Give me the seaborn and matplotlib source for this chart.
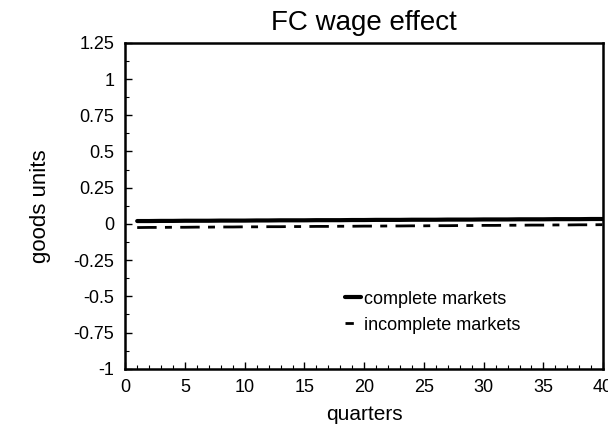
import pandas as pd
import matplotlib.pyplot as plt
import seaborn as sns
from matplotlib.ticker import MultipleLocator

# данные
quarters = list(range(1, 41))
complete = [0.020, 0.020, 0.021, 0.021, 0.022, 0.022, 0.022, 0.023, 0.023, 0.023,
            0.024, 0.024, 0.025, 0.025, 0.025, 0.026, 0.026, 0.026, 0.027, 0.027,
            0.028, 0.028, 0.028, 0.029, 0.029, 0.029, 0.030, 0.030, 0.030, 0.031,
            0.031, 0.031, 0.032, 0.032, 0.032, 0.033, 0.033, 0.033, 0.034, 0.034]
incomplete = [-0.025, -0.024, -0.024, -0.023, -0.023, -0.022, -0.022, -0.021, -0.021, -0.020,
              -0.020, -0.019, -0.019, -0.018, -0.018, -0.017, -0.017, -0.016, -0.016, -0.015,
              -0.015, -0.014, -0.014, -0.013, -0.013, -0.012, -0.012, -0.011, -0.011, -0.010,
              -0.010, -0.009, -0.009, -0.008, -0.008, -0.007, -0.007, -0.006, -0.006, -0.005]
y_ticks = [1.25, 1, 0.75, 0.5, 0.25, 0, -0.25, -0.5, -0.75, -1]
y_tick_labels = ['1.25', '1', '0.75', '0.5', '0.25', '0', '-0.25', '-0.5', '-0.75', '-1']
x_ticks = [0, 5, 10, 15, 20, 25, 30, 35, 40]

df = pd.DataFrame({'quarters': quarters, 'complete': complete, 'incomplete': incomplete})

sns.set_style('ticks')
plt.rcParams['font.family'] = ['Liberation Sans', 'DejaVu Sans']
plt.rcParams['text.color'] = 'black'
plt.rcParams['axes.labelcolor'] = 'black'
plt.rcParams['xtick.color'] = 'black'
plt.rcParams['ytick.color'] = 'black'

fig = plt.figure(figsize=(6.08, 4.37), dpi=100)
ax = fig.add_axes([0.206, 0.156, 0.786, 0.746])

sns.lineplot(data=df, x='quarters', y='complete', ax=ax, color='black',
             linewidth=3, label='complete markets')
sns.lineplot(data=df, x='quarters', y='incomplete', ax=ax, color='black',
             linewidth=2, dashes=False, label='incomplete markets')
ax.lines[1].set_dashes([7, 3, 2.5, 3])

ax.set_xlim(0, 40)
ax.set_ylim(-1, 1.25)
ax.set_yticks(y_ticks)
ax.set_yticklabels(y_tick_labels)
ax.set_xticks(x_ticks)
ax.xaxis.set_minor_locator(MultipleLocator(1))
ax.yaxis.set_minor_locator(MultipleLocator(0.125))
ax.tick_params(axis='both', which='major', direction='in', length=5, width=1,
               labelsize=13)
ax.tick_params(axis='y', which='major', pad=8)
ax.tick_params(axis='x', which='major', pad=7)
ax.tick_params(axis='both', which='minor', direction='in', length=3, width=0.8)

for side in ['top', 'right', 'left', 'bottom']:
    ax.spines[side].set_visible(True)
    ax.spines[side].set_linewidth(1.8)
    ax.spines[side].set_color('black')

ax.set_title('FC wage effect', fontsize=20, pad=9)
ax.set_xlabel('quarters', fontsize=15, labelpad=7)
ax.set_ylabel('goods units', fontsize=16, labelpad=16)

leg = ax.legend(loc='lower left', bbox_to_anchor=(0.44, 0.08), frameon=False,
                fontsize=13, handlelength=0.9, handletextpad=0.15, labelspacing=0.5,
                borderpad=0)
leg.get_lines()[1].set_dashes([3, 3])

fig.savefig('out.png', dpi=100)
